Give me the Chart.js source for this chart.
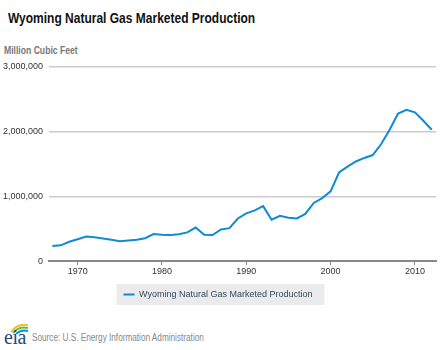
<!DOCTYPE html>
<html>
<head>
<meta charset="utf-8">
<script src="https://cdn.jsdelivr.net/npm/chart.js@4.4.0/dist/chart.umd.min.js"></script>
<style>
  body { margin: 0; background: #fff; width: 445px; height: 350px; overflow: hidden; position: relative;
         font-family: "Liberation Sans", Arial, sans-serif; }
  #title { position: absolute; left: 8px; top: 9px; font-size: 15px; font-weight: bold; color: #111; white-space: nowrap;
           transform: scaleX(0.8); transform-origin: left top; }
  #unit { position: absolute; left: 4px; top: 44px; font-size: 10.5px; font-weight: bold; color: #777; white-space: nowrap;
          transform: scaleX(0.82); transform-origin: left top; }
  #wrap { position: absolute; left: 0; top: 0; width: 445px; height: 317px; }
  #logo { position: absolute; left: 3px; top: 322px; width: 26px; height: 26px; }
  #logo span { position: absolute; left: 1px; top: 4px; font-family: "Liberation Serif", serif; font-size: 20px; color: #1d4a78; letter-spacing: -0.5px; }
  #logo svg { position: absolute; left: 6px; top: 0; }
  #source { position: absolute; left: 32px; top: 332px; font-size: 10px; color: #888; white-space: nowrap;
            transform: scaleX(0.82); transform-origin: left top; }
</style>
</head>
<body>
<div id="title">Wyoming Natural Gas Marketed Production</div>
<div id="unit">Million Cubic Feet</div>
<div id="wrap"><canvas id="chart"></canvas></div>
<div id="logo">
  <svg width="20" height="12" viewBox="0 0 20 12">
    <path d="M2 10 Q8 1 19 3" stroke="#f2c318" stroke-width="2" fill="none"/>
    <path d="M4 11 Q10 4 19 6" stroke="#6cb33f" stroke-width="2" fill="none"/>
    <path d="M7 12 Q12 7 19 9" stroke="#0096d7" stroke-width="2" fill="none"/>
  </svg>
  <span>eia</span>
</div>
<div id="source">Source: U.S. Energy Information Administration</div>
<script>
// Wyoming natural gas marketed production, million cubic feet
const years = [1967, 1968, 1969, 1970, 1971, 1972, 1973, 1974, 1975, 1976,
               1977, 1978, 1979, 1980, 1981, 1982, 1983, 1984, 1985, 1986,
               1987, 1988, 1989, 1990, 1991, 1992, 1993, 1994, 1995, 1996,
               1997, 1998, 1999, 2000, 2001, 2002, 2003, 2004, 2005, 2006,
               2007, 2008, 2009, 2010, 2011, 2012];
const production = [235000, 245000, 300000, 340000, 380000, 370000, 350000, 330000, 310000, 320000,
                    330000, 355000, 420000, 410000, 405000, 415000, 445000, 520000, 410000, 405000,
                    490000, 510000, 660000, 740000, 785000, 850000, 640000, 700000, 670000, 660000,
                    730000, 900000, 975000, 1080000, 1370000, 1460000, 1540000, 1595000, 1640000, 1810000,
                    2030000, 2280000, 2340000, 2300000, 2170000, 2030000];
const xTicks = [1970, 1980, 1990, 2000, 2010];
const yTicks = [0, 1000000, 2000000, 3000000];
const seriesName = 'Wyoming Natural Gas Marketed Production';

const tickFont = { family: '"Liberation Sans", Arial, sans-serif', size: 9 };

// grey box behind the legend item
const legendBox = {
    id: 'legendBox',
    beforeDraw(chart) {
        const hb = chart.legend && chart.legend.legendHitBoxes && chart.legend.legendHitBoxes[0];
        if (!hb) return;
        const ctx = chart.ctx;
        ctx.save();
        ctx.fillStyle = '#ebebeb';
        ctx.fillRect(hb.left - 7, hb.top - 6, hb.width + 19, hb.height + 12);
        ctx.restore();
    }
};

new Chart(document.getElementById('chart'), {
    type: 'line',
    data: {
        datasets: [{
            label: seriesName,
            data: years.map((y, i) => ({ x: y, y: production[i] })),
            borderColor: '#0f8bd6',
            backgroundColor: '#0f8bd6',
            borderWidth: 2,
            tension: 0,
            pointRadius: 0
        }]
    },
    options: {
        responsive: true,
        maintainAspectRatio: false,
        animation: false,
        layout: { padding: { top: 67, left: 0, right: 9, bottom: 8 } },
        plugins: {
            legend: {
                position: 'bottom',
                labels: {
                    usePointStyle: true,
                    pointStyle: 'line',
                    pointStyleWidth: 11,
                    color: '#34495e',
                    font: { family: '"Liberation Sans", Arial, sans-serif', size: 9 },
                    padding: 12
                }
            },
            tooltip: { enabled: false }
        },
        scales: {
            x: {
                type: 'linear',
                min: 1966.6,
                max: 2012.5,
                afterBuildTicks: (axis) => { axis.ticks = xTicks.map(v => ({ value: v })); },
                grid: { drawOnChartArea: false, drawTicks: true, tickLength: 4, color: '#888', lineWidth: 1 },
                border: { color: '#888', width: 2 },
                ticks: {
                    callback: (v) => String(v),
                    autoSkip: false,
                    maxRotation: 0,
                    padding: 1,
                    color: '#333',
                    font: tickFont
                }
            },
            y: {
                min: 0,
                max: 3000000,
                afterBuildTicks: (axis) => { axis.ticks = yTicks.map(v => ({ value: v })); },
                afterFit: (axis) => { axis.width = 49; },
                grid: { color: '#cccccc', lineWidth: 1.5, drawTicks: false },
                border: { display: false },
                ticks: {
                    callback: (v) => v.toLocaleString('en-US'),
                    padding: 6,
                    color: '#333',
                    font: tickFont
                }
            }
        }
    },
    plugins: [legendBox]
});
</script>
</body>
</html>
